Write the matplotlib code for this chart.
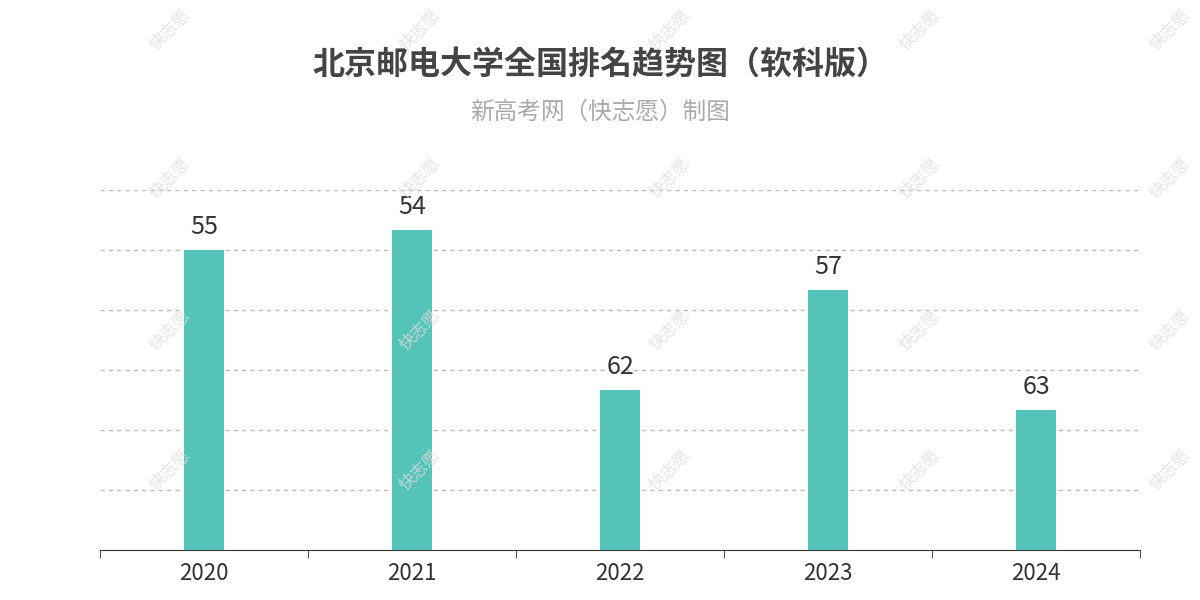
import matplotlib
matplotlib.use("Agg")
import matplotlib.pyplot as plt
from matplotlib import font_manager

years = ["2020", "2021", "2022", "2023", "2024"]
ranks = [55, 54, 62, 57, 63]
base = 70  # axis offset so better rank = taller bar

names = {f.name for f in font_manager.fontManager.ttflist}
cjk = [n for n in ["Noto Sans CJK SC", "Noto Sans CJK JP", "Noto Sans CJK TC", "Noto Sans CJK KR"] if n in names]
plt.rcParams["font.family"] = "sans-serif"
plt.rcParams["font.sans-serif"] = cjk + ["DejaVu Sans"]

fig = plt.figure(figsize=(12, 6), dpi=100)
ax = fig.add_axes([100/1200, 50/600, 1040/1200, 360/600])

xs = list(range(len(years)))
heights = [base - r for r in ranks]
ax.bar(xs, heights, width=0.19, color="#54c4b8", zorder=3)
for x, h, r in zip(xs, heights, ranks):
    ax.text(x, h + 0.5, str(r), ha="center", va="bottom", fontsize=18, color="#333333")

ax.set_xlim(-0.5, len(years) - 0.5)
ax.set_ylim(0, 18)
ax.set_yticks([3, 6, 9, 12, 15, 18])
ax.yaxis.grid(True, linestyle=(0, (3, 3)), color="#bbbbbb", linewidth=1)
ax.tick_params(axis="y", length=0, labelleft=False)
ax.set_xticks(xs)
ax.set_xticklabels(years, fontsize=16, color="#333333")
ax.set_xticks([i - 0.5 for i in range(len(years) + 1)], minor=True)
ax.tick_params(axis="x", which="major", length=0, pad=9)
ax.tick_params(axis="x", which="minor", length=6, color="#333333")
for s in ["top", "right", "left"]:
    ax.spines[s].set_visible(False)
ax.spines["bottom"].set_color("#333333")

fig.text(0.5, 1 - 65/600, "北京邮电大学全国排名趋势图（软科版）", ha="center", va="center",
         fontsize=23, fontweight="bold", color="#444444")
fig.text(0.5, 1 - 112/600, "新高考网（快志愿）制图", ha="center", va="center",
         fontsize=17, color="#aaaaaa")

for wx in [170, 420, 670, 920, 1170]:
    for wy in [30, 178, 330, 470]:
        fig.text(wx/1200, 1 - wy/600, "快志愿", rotation=45, ha="center", va="center",
                 fontsize=12, color="#dddddd", alpha=0.8, zorder=0)

fig.savefig("out.png")
